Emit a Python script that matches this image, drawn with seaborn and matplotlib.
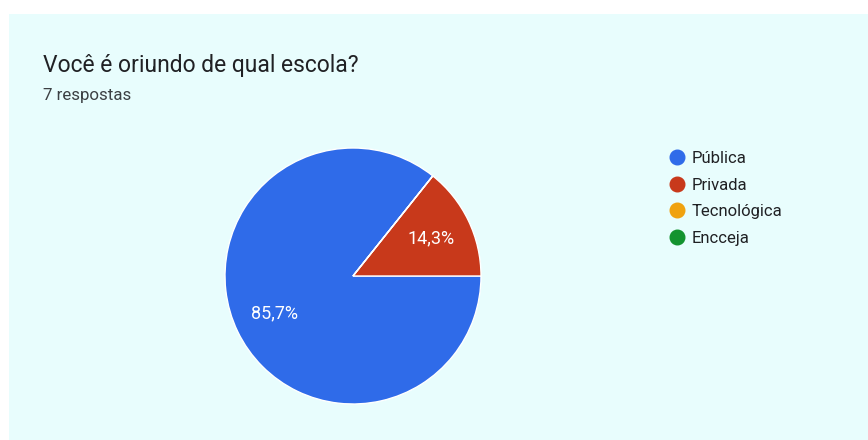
import matplotlib
matplotlib.use("Agg")
import matplotlib.pyplot as plt
from matplotlib.patches import Rectangle
from matplotlib.lines import Line2D
import seaborn as sns

title = "Você é oriundo de qual escola?"
subtitle = "7 respostas"
categories = ["Pública", "Privada", "Tecnológica", "Encceja"]
counts = [6, 1, 0, 0]
colors = ["#2f6be9", "#c8391b", "#f0a20f", "#13932f"]

sns.set_theme(style="white")
plt.rcParams["font.family"] = ["Roboto", "DejaVu Sans"]

W, H = 868, 440
fig = plt.figure(figsize=(W / 100, H / 100), dpi=100, facecolor="white")
bg = "#e8fdfd"
fig.patches.append(Rectangle((9 / W, 0), 1 - 9 / W, (H - 14) / H,
                             transform=fig.transFigure, facecolor=bg,
                             edgecolor="none", zorder=-10))

fig.text(43 / W, 1 - 72 / H, title, fontsize=16.5, color="#202124",
         va="baseline", ha="left")
fig.text(43 / W, 1 - 100 / H, subtitle, fontsize=12.2, color="#3c4043",
         va="baseline", ha="left")

cx, cy, r = 353, 276, 128
half = 1.25 * r
ax = fig.add_axes([(cx - half) / W, (H - cy - half) / H, 2 * half / W, 2 * half / H])
ax.set_facecolor("none")
ax.set_zorder(2)
total = sum(counts)


def fmt(p):
    if p < 0.05:
        return ""
    return f"{p:.1f}".replace(".", ",") + "%"


wedges, texts, autotexts = ax.pie(
    counts, colors=colors, startangle=360 * counts[1] / total, counterclock=True,
    autopct=fmt, pctdistance=0.68,
    wedgeprops=dict(edgecolor="white", linewidth=1),
    textprops=dict(color="white", fontsize=13),
)
ax.set_xlim(-1.25, 1.25)
ax.set_ylim(-1.25, 1.25)
ax.set_aspect("equal")
ax.axis("off")

handles = [Line2D([], [], marker="o", linestyle="none", markersize=10.5,
                  markerfacecolor=c, markeredgecolor=c) for c in colors]
leg = fig.legend(handles, categories, loc="upper left",
                 bbox_to_anchor=(667 / W, 1 - 151 / H), frameon=False,
                 fontsize=12, labelspacing=0.7, handletextpad=0.3,
                 handlelength=1.2, borderaxespad=0, borderpad=0)
for t in leg.get_texts():
    t.set_color("#202124")

fig.savefig("out.png", dpi=100, facecolor="white")
